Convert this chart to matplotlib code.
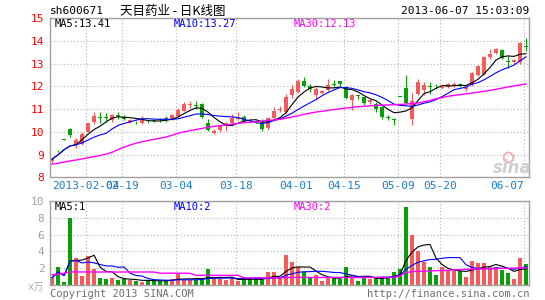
import numpy as np
import pandas as pd
import matplotlib
from matplotlib import pyplot as plt

matplotlib.use("Agg")
plt.rcParams['font.family'] = ['DejaVu Sans Mono', 'Noto Sans CJK SC']

# daily candles, 2013-01-28 .. 2013-06-07 (index 0..79)
opens = [8.70, 9.20, 9.67, 10.13, 9.40, 9.48, 10.00, 10.45, 10.64, 10.63,
         10.50, 10.72, 10.65, 10.42, 10.43, 10.38, 10.44, 10.50, 10.55, 10.60,
         10.56, 10.69, 10.93, 11.18, 11.17, 11.22, 10.37, 9.95, 10.07, 10.29,
         10.37, 10.56, 10.66, 10.52, 10.48, 10.49, 10.15, 10.60, 10.95, 10.85,
         11.60, 11.75, 12.25, 12.00, 11.60, 11.70, 11.82, 12.08, 12.22, 11.97,
         11.38, 11.60, 11.53, 11.29, 11.24, 11.09, 10.65, 10.58, 11.55, 11.94,
         10.55, 11.68, 11.82, 12.00, 12.02, 11.94, 11.98, 12.00, 12.08, 11.86,
         12.07, 12.50, 12.56, 13.27, 13.45, 13.60, 13.12, 13.06, 13.06, 13.78]
highs = [8.86, 9.22, 9.67, 10.15, 9.72, 9.98, 10.40, 10.88, 10.86, 10.82,
         10.78, 10.85, 10.72, 10.57, 10.47, 10.70, 10.50, 10.55, 10.62, 10.68,
         10.78, 11.05, 11.30, 11.35, 11.36, 11.25, 10.57, 10.12, 10.30, 10.45,
         10.80, 10.85, 10.75, 10.56, 10.52, 10.56, 10.65, 11.07, 11.12, 11.66,
         12.05, 12.30, 12.42, 12.10, 11.97, 11.82, 12.30, 12.26, 12.25, 12.00,
         11.65, 11.62, 11.55, 11.45, 11.30, 11.12, 10.72, 10.60, 11.55, 12.48,
         11.72, 12.34, 12.20, 12.19, 12.10, 12.06, 12.15, 12.20, 12.15, 12.00,
         12.62, 12.92, 13.32, 13.62, 13.68, 13.62, 13.32, 13.22, 13.95, 14.10]
lows = [8.62, 9.09, 9.66, 9.76, 9.30, 9.40, 9.97, 10.35, 10.40, 10.42,
        10.45, 10.58, 10.50, 10.38, 10.35, 10.36, 10.38, 10.44, 10.42, 10.42,
        10.50, 10.65, 10.90, 11.05, 11.00, 10.60, 10.05, 9.90, 10.00, 10.04,
        10.35, 10.50, 10.42, 10.45, 10.40, 10.04, 10.10, 10.58, 10.88, 10.80,
        11.50, 11.70, 11.98, 11.75, 11.45, 11.65, 11.78, 11.95, 12.02, 11.45,
        10.94, 11.45, 11.16, 11.22, 10.87, 10.58, 10.50, 10.30, 11.52, 11.20,
        10.30, 11.60, 11.60, 11.68, 11.90, 11.90, 11.92, 11.95, 11.95, 11.80,
        12.02, 12.45, 12.50, 13.20, 13.40, 13.20, 12.80, 13.00, 12.98, 13.55]
closes = [8.80, 9.18, 9.66, 9.87, 9.65, 9.92, 10.38, 10.68, 10.60, 10.60,
          10.73, 10.70, 10.56, 10.52, 10.41, 10.54, 10.42, 10.48, 10.53, 10.57,
          10.74, 10.95, 11.22, 11.21, 11.14, 10.64, 10.10, 10.05, 10.26, 10.37,
          10.59, 10.63, 10.49, 10.50, 10.45, 10.12, 10.60, 10.93, 11.02, 11.54,
          11.90, 12.25, 12.03, 11.90, 11.88, 11.78, 12.04, 12.05, 12.08, 11.47,
          11.60, 11.56, 11.25, 11.40, 11.02, 10.65, 10.62, 10.50, 11.53, 11.28,
          11.35, 12.19, 12.04, 11.96, 12.00, 11.98, 12.08, 12.10, 12.04, 11.97,
          12.57, 12.87, 13.28, 13.43, 13.62, 13.26, 13.08, 13.17, 13.90, 13.74]
# volume, x10k lots
volumes = [0.87, 2.2, 0.3, 8.0, 3.25, 1.1, 3.45, 1.9, 0.87, 0.75,
           0.87, 0.6, 0.67, 0.6, 0.5, 0.4, 0.6, 0.5, 0.5, 0.5,
           0.67, 1.3, 0.6, 0.6, 0.6, 0.65, 1.9, 0.67, 0.67, 0.6,
           0.8, 0.5, 0.8, 0.7, 0.7, 0.6, 1.5, 1.6, 0.8, 3.6,
           2.7, 2.1, 1.5, 0.8, 1.2, 0.5, 0.9, 0.8, 0.67, 2.1,
           1.0, 0.5, 0.9, 0.7, 0.9, 0.9, 0.9, 1.6, 1.9, 9.3,
           5.9, 4.0, 2.7, 2.2, 1.2, 2.1, 1.7, 1.7, 1.7, 0.9,
           2.8, 2.6, 2.6, 2.1, 2.1, 1.8, 1.4, 0.7, 3.2, 2.5]
# 30 day averages (they need data before the window)
ma30 = [8.58, 8.62, 8.67, 8.72, 8.76, 8.81, 8.86, 8.91, 8.96, 9.02,
        9.10, 9.22, 9.33, 9.42, 9.50, 9.56, 9.62, 9.67, 9.72, 9.77,
        9.85, 9.94, 10.00, 10.05, 10.10, 10.15, 10.20, 10.24, 10.27, 10.30,
        10.33, 10.37, 10.40, 10.42, 10.44, 10.47, 10.50, 10.52, 10.55, 10.60,
        10.65, 10.70, 10.77, 10.82, 10.87, 10.90, 10.94, 10.98, 11.01, 11.04,
        11.07, 11.10, 11.12, 11.14, 11.16, 11.17, 11.18, 11.19, 11.20, 11.22,
        11.24, 11.27, 11.32, 11.38, 11.45, 11.50, 11.56, 11.60, 11.63, 11.67,
        11.70, 11.74, 11.78, 11.82, 11.87, 11.92, 11.97, 12.02, 12.06, 12.10]
vol_ma30 = [1.20, 1.30, 1.40, 1.55, 1.56, 1.55, 1.56, 1.55, 1.54, 1.55,
            1.55, 1.54, 1.55, 1.55, 1.54, 1.55, 1.55, 1.54, 1.40, 1.40,
            1.41, 1.40, 1.40, 1.39, 1.15, 1.15, 1.16, 1.15, 1.15, 1.14,
            1.15, 1.15, 0.85, 0.85, 0.86, 0.85, 0.85, 0.84, 0.85, 0.90,
            0.90, 0.91, 0.90, 0.90, 0.89, 0.90, 0.90, 0.91, 0.90, 0.90,
            0.90, 0.89, 0.90, 0.90, 0.90, 0.91, 0.90, 0.90, 1.10, 1.50,
            1.60, 1.62, 1.65, 1.68, 1.70, 1.72, 1.75, 1.80, 1.83, 1.86,
            1.88, 1.90, 1.92, 1.93, 1.95, 1.97, 1.99, 2.01, 2.03, 2.06]

date_pos = [6, 12, 21, 31, 41, 49, 58, 65, 79]
date_labels = ['2013-02-04', '02-19', '03-04', '03-18', '04-01',
               '04-15', '05-09', '05-20', '06-07']

RED = '#f65b5b'
GREEN = '#0a9f0a'
GRID = '#b4b4b4'
FRAME = '#a0a0a0'

o = np.array(opens)
c = np.array(closes)
x = np.arange(len(c))
colors = np.where(c >= o, RED, GREEN)

ma5 = pd.Series(c).rolling(5, min_periods=1).mean()
ma10 = pd.Series(c).rolling(10, min_periods=1).mean()
vol_ma5 = pd.Series(volumes).rolling(5, min_periods=1).mean()
vol_ma10 = pd.Series(volumes).rolling(10, min_periods=1).mean()

W, H = 545, 300
fig = plt.figure(figsize=(W / 100, H / 100), dpi=100)
ax = fig.add_axes([50 / W, 1 - 177.3 / H, 479.3 / W, 159.3 / H])
axv = fig.add_axes([50 / W, 1 - 285 / H, 479.3 / W, 84 / H])

# price panel
ax.vlines(x, lows, highs, colors=colors, linewidth=0.8, zorder=2)
body = np.maximum(np.abs(c - o), 0.03)
ax.bar(x, body, bottom=np.minimum(o, c), width=0.72, color=colors, linewidth=0, zorder=2)
ax.plot(x, ma5, color='black', linewidth=0.8, zorder=3)
ax.plot(x, ma10, color='#0000ff', linewidth=0.8, zorder=3)
ax.plot(x, ma30, color='#ff00ff', linewidth=1.0, zorder=3)

# volume panel
axv.bar(x, volumes, width=0.8, color=colors, linewidth=0, zorder=2)
axv.plot(x, vol_ma5, color='black', linewidth=0.8, zorder=3)
axv.plot(x, vol_ma10, color='#0000ff', linewidth=0.8, zorder=3)
axv.plot(x, vol_ma30, color='#ff00ff', linewidth=1.0, zorder=3)

tick_x = np.array(date_pos) - 0.33
for a in (ax, axv):
    a.set_xlim(-0.35, 79.55)
    a.set_xticks(tick_x)
    a.grid(True, color=GRID, linestyle=(0, (1, 2)), linewidth=0.8, zorder=0)
    a.set_axisbelow(True)
    for s in a.spines.values():
        s.set_color(FRAME)
        s.set_linewidth(1.0)
    a.tick_params(length=0, labelsize=8)

ax.set_ylim(8, 15)
ax.set_yticks(range(8, 16))
ax.set_xticklabels(date_labels)
ax.tick_params(axis='y', labelcolor='#ff0000', pad=4)
ax.tick_params(axis='x', labelcolor='#1a7ec6', pad=3)
# last date sits at the right edge, so it is drawn left of its gridline
last = ax.get_xticklabels()[-1]
last.set_ha('right')

axv.set_ylim(0, 10)
axv.set_yticks([2, 4, 6, 8, 10])
axv.set_xticklabels([])
axv.tick_params(axis='y', labelcolor='#a0a0a0', pad=4)


def px(xp, yp):
    return xp / W, 1 - yp / H


# header
fig.text(*px(50, 11), 'sh600671', fontsize=8, va='center')
fig.text(*px(120, 11), '天目药业 - 日K线图', fontsize=9, va='center',
         family=['Noto Sans CJK SC', 'DejaVu Sans'])
fig.text(*px(529, 11), '2013-06-07 15:03:09', fontsize=8, va='center', ha='right')

fig.text(*px(55, 24), 'MA5:13.41', fontsize=7.5, va='center', color='black')
fig.text(*px(174, 24), 'MA10:13.27', fontsize=7.5, va='center', color='#0000ff')
fig.text(*px(294, 24), 'MA30:12.13', fontsize=7.5, va='center', color='#ff00ff')

fig.text(*px(55, 207), 'MA5:1', fontsize=7.5, va='center', color='black')
fig.text(*px(174, 207), 'MA10:2', fontsize=7.5, va='center', color='#0000ff')
fig.text(*px(294, 207), 'MA30:2', fontsize=7.5, va='center', color='#ff00ff')

# watermark + footer
ax.plot(0.955, 0.13, 'o', transform=ax.transAxes, ms=7, mfc='none',
        mec='#f3b4b4', mew=1.5, zorder=1)
fig.text(*px(512, 168), 'sina', fontsize=12, style='italic', weight='bold',
         color='#cfcfcf', ha='center', va='center', family='DejaVu Sans')
fig.text(*px(44, 288), 'x万', fontsize=7.5, color='#b0b0b0', ha='right', va='center',
         family=['DejaVu Sans Mono', 'Noto Sans CJK SC'])
fig.text(*px(50, 294), 'Copyright 2013 SINA.COM', fontsize=7.5, color='#707070', va='center')
fig.text(*px(530, 294), 'http://finance.sina.com.cn', fontsize=7.5, color='#707070',
         va='center', ha='right')

plt.savefig('out.png', dpi=100)
